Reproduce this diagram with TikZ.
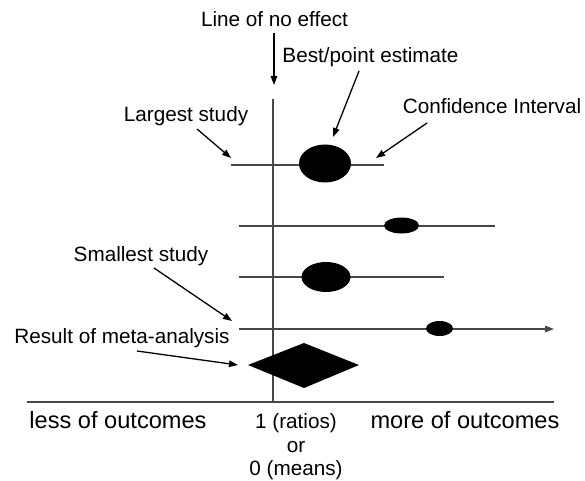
\documentclass[tikz,border=0pt]{standalone}
\usepackage{fontspec}
\setmainfont{Liberation Sans}
\usetikzlibrary{arrows.meta,shapes.geometric}
\tikzset{
  lbl/.style={inner sep=0pt, font=\fontsize{20.7bp}{24bp}\selectfont},
  biglbl/.style={inner sep=0pt, font=\fontsize{23.6bp}{28bp}\selectfont},
  est/.style={ellipse, fill=black, inner sep=0pt},
  ci/.style={draw=black!72, line width=1.3bp},
  pointer/.style={draw=black, line width=1.3bp, -{Triangle[length=9bp,width=6.5bp]}},
}
\begin{document}
\begin{tikzpicture}[x=1bp,y=-1bp]
\useasboundingbox (0,0) rectangle (585,481);
% labels
\node[lbl] (lne) at (274.5,19) {Line of no effect};
\node[lbl] (best) at (370.5,57) {Best/point estimate};
\node[lbl] (largest) at (186,116) {Largest study};
\node[lbl] (conf) at (492,106) {Confidence Interval};
\node[lbl] (smallest) at (141,256) {Smallest study};
\node[lbl] (result) at (122,338) {Result of meta-analysis};
\node[biglbl] (less) at (118,420) {less of outcomes};
\node[biglbl] (more) at (465,420) {more of outcomes};
\node[lbl] (one) at (296,423) {1 (ratios)};
\node[lbl] (or) at (296,447) {or};
\node[lbl] (zero) at (296,470) {0 (means)};
% axes
\coordinate (vtop) at (273,99);
\coordinate (vbot) at (273,402);
\coordinate (axl) at (27,402);
\coordinate (axr) at (554,402);
\draw[ci] (vtop) -- (vbot);
\draw[ci] (axl) -- (axr);
% study rows
\coordinate (r1l) at (231,165); \coordinate (r1r) at (384,165);
\coordinate (r2l) at (239,226); \coordinate (r2r) at (495,226);
\coordinate (r3l) at (239,277); \coordinate (r3r) at (444,277);
\coordinate (r4l) at (239,329); \coordinate (r4r) at (554,329);
\draw[ci] (r1l) -- (r1r);
\draw[ci] (r2l) -- (r2r);
\draw[ci] (r3l) -- (r3r);
\draw[ci,-{Triangle[length=9bp,width=6.5bp]}] (r4l) -- (r4r);
\node[est, minimum width=52bp, minimum height=38bp] (e1) at (325,163.5) {};
\node[est, minimum width=35bp, minimum height=16bp] (e2) at (401.5,225.5) {};
\node[est, minimum width=49bp, minimum height=30bp] (e3) at (326,277) {};
\node[est, minimum width=27bp, minimum height=15bp] (e4) at (439.5,328.5) {};
% diamond
\coordinate (dl) at (248,365);
\coordinate (dt) at (304,343);
\coordinate (dr) at (359,365);
\coordinate (db) at (304,388);
\fill[black] (dl) -- (dt) -- (dr) -- (db) -- cycle;
% pointer arrows
\coordinate (a1s) at (274,33);  \coordinate (a1e) at (274,85);
\coordinate (a2s) at (359,71);  \coordinate (a2e) at (333,137);
\coordinate (a3s) at (197,129); \coordinate (a3e) at (231,158);
\coordinate (a4s) at (427,123); \coordinate (a4e) at (376,158);
\coordinate (a5s) at (154,268); \coordinate (a5e) at (232,321);
\coordinate (a6s) at (137,351); \coordinate (a6e) at (238,365);
\draw[pointer] (a1s) -- (a1e);
\draw[pointer] (a2s) -- (a2e);
\draw[pointer] (a3s) -- (a3e);
\draw[pointer] (a4s) -- (a4e);
\draw[pointer] (a5s) -- (a5e);
\draw[pointer] (a6s) -- (a6e);
\end{tikzpicture}
\end{document}
